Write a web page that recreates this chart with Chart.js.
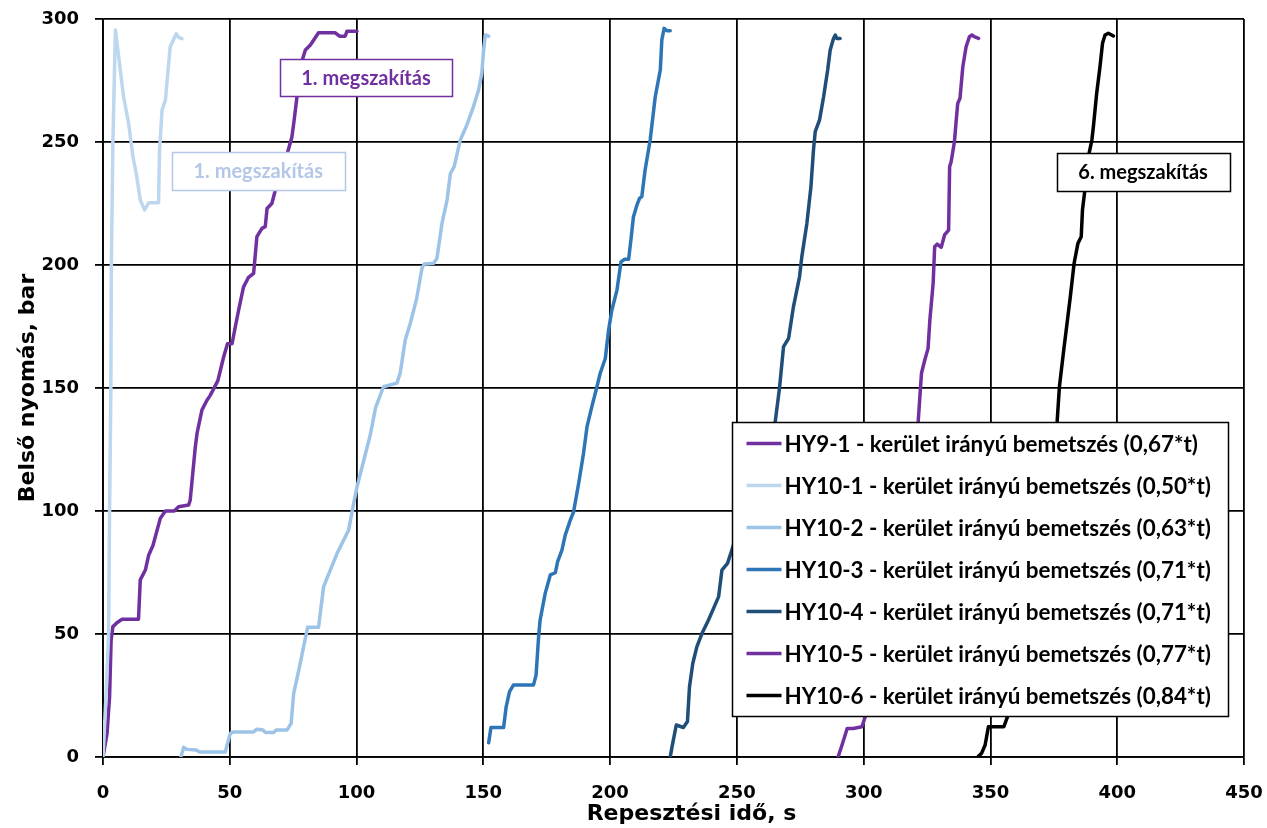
<!DOCTYPE html>
<html>
<head>
<meta charset="utf-8">
<title>Repesztési idő</title>
<script src="https://cdn.jsdelivr.net/npm/chart.js@4.4.1/dist/chart.umd.min.js"></script>
<style>
  html, body { margin: 0; padding: 0; background: #fff; }
  #wrap { width: 1267px; height: 828px; }
</style>
</head>
<body>
<div id="wrap"><canvas id="grafikon" width="1267" height="828"></canvas></div>
<script>
// === Adatok (idő s, nyomás bar) ===
var hy91T = [0, 1.6, 2.6, 3.2, 3.9, 5.5, 7.5, 14.0, 14.7, 16.7, 18.0, 19.7, 22.6, 24.6, 28.1, 29.8,
  33.8, 34.4, 36.4, 37.1, 39.0, 41.0, 42.3, 45.3, 47.6, 49.1, 50.9, 52.2, 53.5, 55.4, 57.4, 59.4,
  60.7, 62.7, 64.0, 64.7, 66.6, 68.6, 70.6, 72.6, 74.5, 75.4, 76.5, 77.8, 79.8, 81.8, 85.0, 91.6,
  93.3, 95.5, 96.2, 100.2];
var hy91P = [0, 9.6, 24.5, 47.6, 53, 54.6, 56, 56, 72, 76, 82, 86, 97, 100, 100, 101.7,
  102.4, 104.5, 126, 131.6, 141, 145, 147, 153, 162.7, 168, 168, 175, 181.7, 191, 195, 196.6,
  211.5, 214.9, 215.6, 223, 225, 233, 240, 245, 252, 259, 268.4, 280.6, 287.4, 289.4, 294.4, 294.4,
  293, 293, 295, 295];

var hy101T = [0, 1.2, 2.2, 2.6, 3.1, 3.3, 3.9, 4.9, 6.85, 8.1, 10.1, 11.8, 13.1, 14.7, 16.4, 18.0,
  21.9, 22.3, 23.3, 24.6, 26.5, 28.9, 29.8, 31.1];
var hy101P = [0, 25, 50, 100, 150, 200, 250, 295.5, 279, 268.5, 257.6, 244, 237.3, 226.4, 222.4, 225.3,
  225.3, 246.7, 263, 267, 288.7, 294, 292.5, 292];

var hy102T = [30.7, 31.8, 33.1, 36.8, 38.1, 48.2, 50.2, 51.5, 59.4, 60.7, 63.1, 64.0, 67.3, 68.3, 72.6, 74.2,
  75.2, 77.5, 79.1, 80.7, 85.0, 87.0, 88.6, 92.3, 96.9, 98.6, 100.2, 105.4, 107.5, 110.6, 115.9, 117.2, 119.2,
  121.2, 123.6, 125.8, 126.7, 130.4, 131.7, 133.7, 135.7, 137.0, 138.5, 140.9, 143.5, 146.1, 148.1, 149.4, 150.1,
  150.8, 152.1];
var hy102P = [0, 3.9, 3.1, 2.8, 2, 2, 9.6, 10.2, 10.2, 11.3, 11, 10, 10, 11, 11, 13.7,
  25.9, 36.6, 44.8, 52.7, 52.7, 69.2, 73.3, 82.7, 92.3, 101.7, 109.9, 130.9, 142, 150.5, 152, 156, 169.5,
  176.3, 185.8, 198.7, 200.4, 200.7, 202.7, 217, 226.4, 237.2, 240, 250.8, 256.9, 264.4, 271, 277.9, 287.4,
  293.5, 293];

var hy103T = [152.1, 153.0, 158.0, 159.0, 160.3, 161.9, 169.8, 170.8, 171.8, 172.4, 174.4, 176.4, 178.4, 179.3, 181.0, 182.3,
  184.3, 185.6, 187.6, 189.5, 190.9, 192.8, 194.8, 196.1, 198.1, 199.4, 200.7, 202.7, 204.3, 205.6, 207.3, 208.2,
  209.2, 210.6, 211.6, 212.5, 213.8, 215.8, 217.8, 219.8, 220.4, 221.3, 222.4, 223.7];
var hy103P = [5.8, 12, 12, 20.4, 26.5, 29.3, 29.3, 33.3, 48.9, 55.7, 66.5, 74, 74.9, 79.4, 84.1, 90.2,
  96.3, 99.7, 111.3, 123.4, 134.3, 142.4, 150.5, 156, 162, 173.6, 181.7, 189.8, 201.3, 202.3, 202.3, 210.2,
  219.6, 224.4, 227.1, 227.8, 238.6, 250.8, 268.4, 279.3, 291.5, 296.2, 295.2, 295.2];

var hy104T = [223.7, 224.4, 226.1, 228.9, 230.5, 231.3, 232.6, 234.2, 236.2, 238.8, 240.8, 242.8, 244.1, 246.3, 248.0, 256.0,
  265.1, 266.8, 268.4, 270.4, 272.3, 274.7, 275.6, 277.6, 279.2, 280.2, 280.9, 282.6, 284.2, 285.8, 286.8, 288.1,
  288.8, 289.4, 290.7];
var hy104P = [0, 4, 13, 12, 14.4, 28.5, 38, 44.8, 50.2, 55.7, 60.4, 65.2, 76, 78.7, 84.1, 110,
  136.2, 149.9, 166.8, 170.2, 183, 195.2, 203.3, 216.9, 231.8, 246.7, 254.2, 259, 268.4, 279.3, 287.4, 292.1,
  293.5, 292.1, 292.1];

var hy105T = [289.9, 291.5, 293.5, 295.9, 299.3, 300.6, 302.0, 311.0, 321.5, 322.8, 324.1, 325.4, 326.1, 327.4, 328.0, 329.0,
  330.6, 331.9, 333.5, 333.9, 334.5, 335.8, 336.4, 337.1, 338.0, 339.1, 340.4, 341.7, 342.7, 343.6, 345.3];
var hy105P = [0, 5, 11.6, 11.6, 12.3, 16.3, 20.3, 75, 136.3, 156, 161.4, 166.1, 177.6, 192.5, 207.4, 208.5,
  207.2, 212.2, 214.2, 239.9, 242, 250.1, 257.6, 265.7, 267.8, 280.6, 288.7, 292.8, 293.5, 292.8, 292.1];

var hy106T = [345.0, 346.5, 347.9, 349.2, 355.3, 356.7, 366.0, 376.3, 377.2, 378.9, 379.8, 381.5, 383.0, 384.5, 385.8, 386.3,
  387.4, 388.9, 390.0, 390.6, 391.9, 393.2, 394.2, 395.2, 396.5, 398.5];
var hy106P = [0, 1.5, 4.9, 12.3, 12.3, 16.3, 75, 136.3, 150.5, 165.4, 172.9, 187.1, 200.7, 208.8, 211.5, 222.4,
  231.8, 245.4, 250.8, 256.2, 269.8, 280.6, 290.1, 293.5, 294.2, 293.1];

var sorozatNevek = [
  'HY9-1 - kerület irányú bemetszés (0,67*t)',
  'HY10-1 - kerület irányú bemetszés (0,50*t)',
  'HY10-2 - kerület irányú bemetszés (0,63*t)',
  'HY10-3 - kerület irányú bemetszés (0,71*t)',
  'HY10-4 - kerület irányú bemetszés (0,71*t)',
  'HY10-5 - kerület irányú bemetszés (0,77*t)',
  'HY10-6 - kerület irányú bemetszés (0,84*t)'
];
var xTicks = [0, 50, 100, 150, 200, 250, 300, 350, 400, 450];
var yTicks = [0, 50, 100, 150, 200, 250, 300];

document.addEventListener('DOMContentLoaded', function () {
  var FONT = 'Lato, "DejaVu Sans", sans-serif';
  var WIDE_FONT = '"DejaVu Sans", sans-serif';

  var szinek = ['#7030A0', '#BDD7EE', '#9DC3E6', '#2E75B6', '#1F4E79', '#7030A0', '#000000'];
  var idok = [hy91T, hy101T, hy102T, hy103T, hy104T, hy105T, hy106T];
  var nyomasok = [hy91P, hy101P, hy102P, hy103P, hy104P, hy105P, hy106P];

  function pontok(t, p) {
    return t.map(function (v, i) { return { x: v, y: p[i] }; });
  }

  var datasets = sorozatNevek.map(function (nev, i) {
    return {
      label: nev,
      data: pontok(idok[i], nyomasok[i]),
      borderColor: szinek[i],
      backgroundColor: szinek[i],
      borderWidth: 3.5,
      pointRadius: 0,
      tension: 0,
      borderJoinStyle: 'round',
      borderCapStyle: 'round',
      fill: false,
      order: sorozatNevek.length - i
    };
  });

  // === Feliratok (adatkoordinátában) ===
  var feliratok = [
    { text: '1. megszakítás', x: 61.2, y: 238.4, w: 173, h: 38, color: '#B4C7E7' },
    { text: '1. megszakítás', x: 103.7, y: 276.3, w: 172, h: 37, color: '#7030A0' },
    { text: '6. megszakítás', x: 410.2, y: 237.8, w: 173, h: 38, color: '#000000' }
  ];

  var rajzPlugin = {
    id: 'dobozok',
    afterDatasetsDraw: function (chart) {
      var ctx = chart.ctx;
      var sx = chart.scales.x, sy = chart.scales.y;
      var ca = chart.chartArea;
      ctx.save();

      feliratok.forEach(function (f) {
        var cx = sx.getPixelForValue(f.x);
        var cy = sy.getPixelForValue(f.y);
        var x0 = Math.round(cx - f.w / 2) + 0.5, y0 = Math.round(cy - f.h / 2) + 0.5;
        ctx.fillStyle = '#ffffff';
        ctx.fillRect(x0, y0, f.w, f.h);
        ctx.strokeStyle = f.color;
        ctx.lineWidth = 1.5;
        ctx.strokeRect(x0, y0, f.w, f.h);
        ctx.fillStyle = f.color;
        ctx.font = 'bold 20px ' + FONT;
        ctx.textAlign = 'center';
        ctx.textBaseline = 'middle';
        ctx.fillText(f.text, cx, cy + 1);
      });

      // === Jelmagyarázat ===
      var lw = 496, lh = 294;
      var lx = Math.round(ca.right - 16 - lw) + 0.5;
      var ly = Math.round(ca.bottom - 41 - lh) + 0.5;
      ctx.fillStyle = '#ffffff';
      ctx.fillRect(lx, ly, lw, lh);
      ctx.strokeStyle = '#000000';
      ctx.lineWidth = 1.5;
      ctx.strokeRect(lx, ly, lw, lh);

      ctx.font = 'bold 22.4px ' + FONT;
      ctx.textAlign = 'left';
      ctx.textBaseline = 'middle';
      chart.data.datasets.forEach(function (ds, i) {
        var ry = ly + 21 + i * 42;
        ctx.strokeStyle = ds.borderColor;
        ctx.lineWidth = 3.5;
        ctx.beginPath();
        ctx.moveTo(lx + 14, ry);
        ctx.lineTo(lx + 49, ry);
        ctx.stroke();
        ctx.fillStyle = '#000000';
        ctx.fillText(ds.label, lx + 52, ry + 1);
      });

      // === Tengelycímek ===
      ctx.fillStyle = '#000000';
      ctx.font = 'bold 22px ' + WIDE_FONT;
      ctx.textAlign = 'center';
      ctx.textBaseline = 'middle';
      ctx.fillText('Repesztési idő, s', (ca.left + ca.right) / 2 + 18, chart.height - 14);
      ctx.translate(28, (ca.top + ca.bottom) / 2);
      ctx.rotate(-Math.PI / 2);
      ctx.fillText('Belső nyomás, bar', 0, 0);
      ctx.restore();
    }
  };

  // a tengelyek ne kérjenek plusz helyet a címkéknek
  function nullaPadding(scale) {
    scale.paddingTop = 0;
    scale.paddingBottom = 0;
    scale.paddingLeft = 0;
    scale.paddingRight = 0;
  }

  var config = {
    type: 'line',
    data: { datasets: datasets },
    options: {
      responsive: false,
      animation: false,
      layout: { padding: { left: 0, right: 23, top: 19, bottom: 0 } },
      plugins: {
        legend: { display: false },
        tooltip: { enabled: false }
      },
      scales: {
        x: {
          type: 'linear',
          min: xTicks[0],
          max: xTicks[xTicks.length - 1],
          afterFit: function (scale) { scale.height = 71; nullaPadding(scale); },
          afterBuildTicks: function (scale) {
            scale.ticks = xTicks.map(function (v) { return { value: v }; });
          },
          ticks: {
            color: '#000',
            padding: 18,
            maxRotation: 0,
            font: { family: WIDE_FONT, weight: 'bold', size: 18 }
          },
          grid: { color: '#000', lineWidth: 1.8, tickLength: 8, drawTicks: true },
          border: { display: true, color: '#000', width: 1.8 }
        },
        y: {
          type: 'linear',
          min: yTicks[0],
          max: yTicks[yTicks.length - 1],
          afterFit: function (scale) { scale.width = 103; nullaPadding(scale); },
          afterBuildTicks: function (scale) {
            scale.ticks = yTicks.map(function (v) { return { value: v }; });
          },
          ticks: {
            color: '#000',
            padding: 16,
            font: { family: WIDE_FONT, weight: 'bold', size: 18 }
          },
          grid: { color: '#000', lineWidth: 1.8, tickLength: 8, drawTicks: true },
          border: { display: true, color: '#000', width: 1.8 }
        }
      }
    },
    plugins: [rajzPlugin]
  };

  var canvas = document.getElementById('grafikon');
  if (!canvas || typeof Chart === 'undefined') {
    console.error('Nincs canvas vagy a Chart.js nincs betöltve.');
    return;
  }
  new Chart(canvas, config);
});
</script>
</body>
</html>
